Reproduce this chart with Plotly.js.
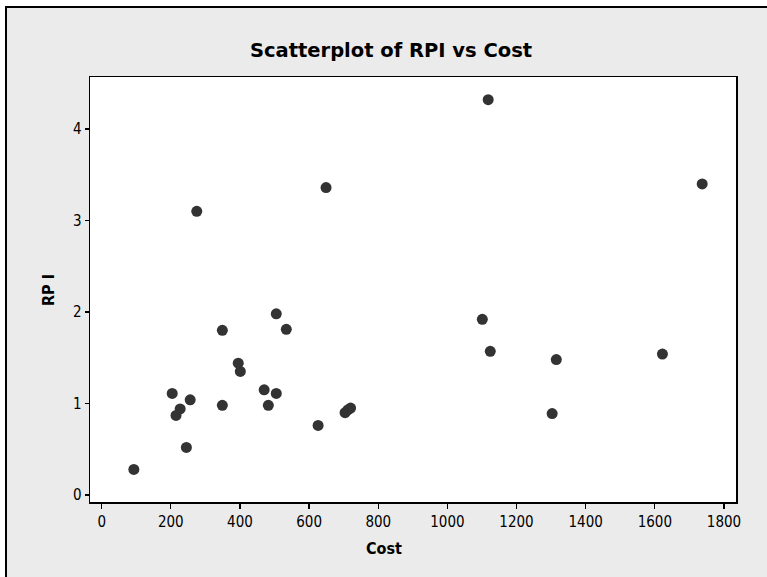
<!DOCTYPE html>
<html>
<head>
<meta charset="utf-8">
<script src="https://cdn.plot.ly/plotly-3.0.1.min.js"></script>
<style>html,body{margin:0;padding:0;background:#fff;}#chart{width:767px;height:577px;}</style>
</head>
<body>
<div id="chart"></div>
<script>
// Data
const cost = [93, 204, 215, 227, 245, 256, 275, 349, 349, 395, 401, 470, 482, 505, 505, 534, 626, 649, 704, 712, 720, 1101, 1118, 1124, 1303, 1315, 1622, 1737];
const rpi  = [0.28, 1.11, 0.87, 0.94, 0.52, 1.04, 3.10, 1.80, 0.98, 1.44, 1.35, 1.15, 0.98, 1.98, 1.11, 1.81, 0.76, 3.36, 0.90, 0.93, 0.95, 1.92, 4.32, 1.57, 0.89, 1.48, 1.54, 3.40];
const xTicks = [0, 200, 400, 600, 800, 1000, 1200, 1400, 1600, 1800];
const yTicks = [0, 1, 2, 3, 4];

const FONT = '"DejaVu Sans Condensed", "DejaVu Sans", sans-serif';
const TFONT = '"DejaVu Sans", sans-serif';

const trace = {
  x: cost, y: rpi, type: 'scatter', mode: 'markers',
  marker: {color: '#333333', size: 11, line: {width: 0}},
  hoverinfo: 'x+y'
};

const layout = {
  width: 767, height: 577,
  margin: {l: 90, r: 31, t: 77, b: 75},
  paper_bgcolor: '#ffffff',
  plot_bgcolor: '#ffffff',
  showlegend: false,
  font: {family: FONT, color: '#000', size: 15},
  title: {text: '<b>Scatterplot of RPI vs Cost</b>', font: {family: TFONT, size: 19.5, color: '#000'},
          xref: 'container', x: 391 / 767, xanchor: 'center', yref: 'container', y: 1 - 50/577, yanchor: 'middle'},
  xaxis: {range: [-33.8, 1834.8], tickmode: 'array', tickvals: xTicks, ticktext: xTicks.map(String),
          showgrid: false, zeroline: false, showline: true, mirror: true, linecolor: '#000', linewidth: 1.5,
          ticks: 'outside', ticklen: 5, tickcolor: '#000', tickwidth: 1.3, tickfont: {size: 15, family: FONT}},
  yaxis: {range: [-0.0765, 4.568], tickmode: 'array', tickvals: yTicks, ticktext: yTicks.map(String),
          showgrid: false, zeroline: false, showline: true, mirror: true, linecolor: '#000', linewidth: 1.5,
          ticks: 'outside', ticklen: 4, tickcolor: '#000', tickwidth: 1.3, tickfont: {size: 15, family: FONT}},
  shapes: [
    {type: 'rect', xref: 'paper', yref: 'paper', layer: 'below',
     x0: (6 - 90) / 646, x1: 3, y0: -2, y1: (502 - 7) / 425,
     fillcolor: '#ebebeb', line: {color: '#000', width: 2}},
    {type: 'rect', xref: 'paper', yref: 'paper', layer: 'below',
     x0: 0, x1: 1, y0: 0, y1: 1, fillcolor: '#ffffff', line: {width: 0}}
  ],
  annotations: [
    {text: '<b>Cost</b>', xref: 'paper', yref: 'paper', x: (384 - 90) / 646, y: (502 - 548) / 425,
     xanchor: 'center', yanchor: 'middle', showarrow: false, font: {size: 16, family: FONT, color: '#000'}},
    {text: '<b>RP I</b>', xref: 'paper', yref: 'paper', x: (48 - 90) / 646, y: (502 - 290) / 425,
     xanchor: 'center', yanchor: 'middle', textangle: -90, showarrow: false, font: {size: 16, family: FONT, color: '#000'}}
  ]
};

Plotly.newPlot('chart', [trace], layout, {displayModeBar: false, staticPlot: true});
</script>
</body>
</html>
